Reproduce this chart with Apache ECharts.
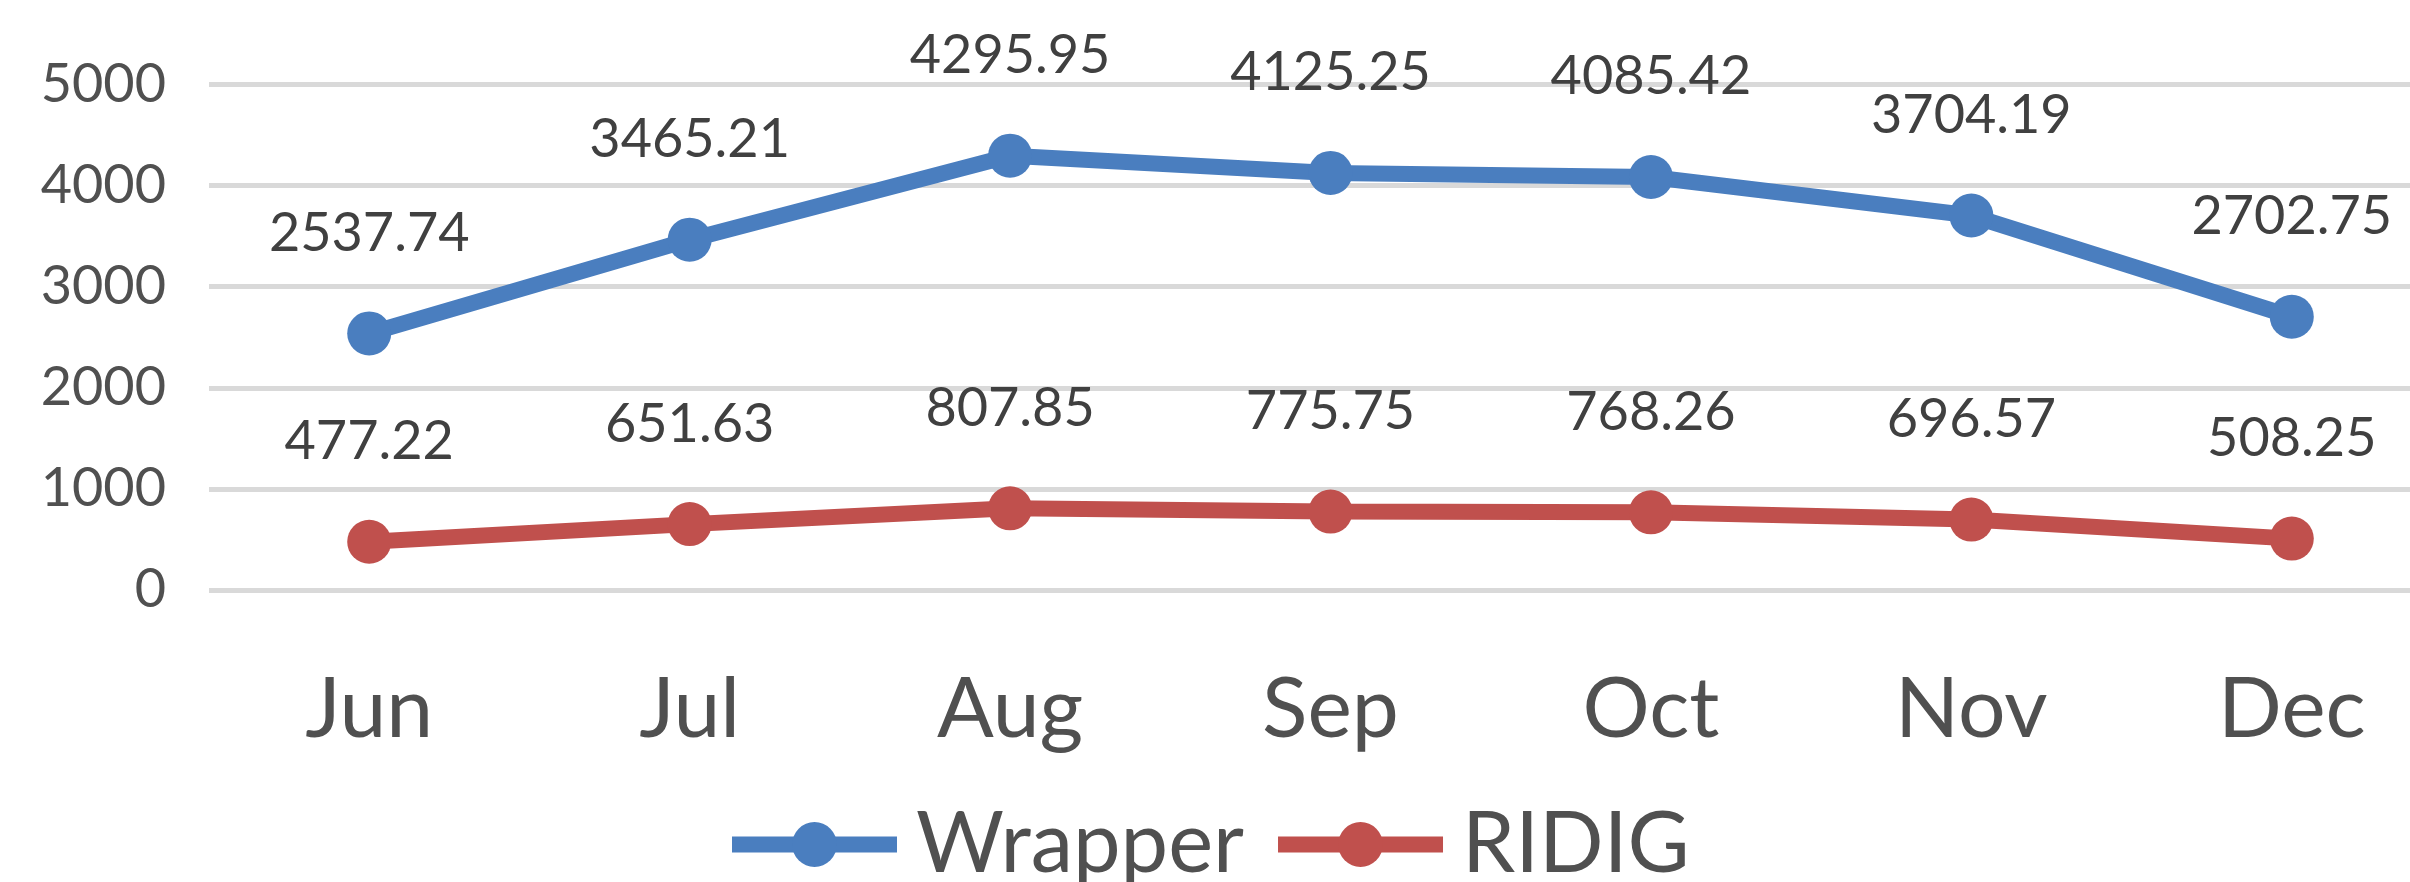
<!DOCTYPE html>
<html>
<head>
<meta charset="utf-8">
<script src="https://cdn.jsdelivr.net/npm/echarts@6/dist/echarts.min.js"></script>
<style>html,body{margin:0;padding:0;background:#fff;}#c{width:2410px;height:882px;}</style>
</head>
<body>
<div id="c"></div>
<script>
const categories = ['Jun', 'Jul', 'Aug', 'Sep', 'Oct', 'Nov', 'Dec'];
const wrapper = [2537.74, 3465.21, 4295.95, 4125.25, 4085.42, 3704.19, 2702.75];
const ridig = [477.22, 651.63, 807.85, 775.75, 768.26, 696.57, 508.25];
const seriesNames = ['Wrapper', 'RIDIG'];
const yTicks = { min: 0, max: 5000, interval: 1000 };

const FONT = 'Lato';
const chart = echarts.init(document.getElementById('c'), null, { renderer: 'canvas' });

function lineSeries(name, data, color) {
  return {
    name: name,
    type: 'line',
    data: data,
    symbol: 'circle',
    symbolSize: 44,
    lineStyle: { color: color, width: 16 },
    itemStyle: { color: color },
    label: {
      show: true,
      position: 'top',
      distance: 51,
      fontFamily: FONT,
      fontSize: 54,
      lineHeight: 54,
      color: '#404040',
      formatter: p => p.value.toFixed(2)
    },
    animation: false
  };
}

chart.setOption({
  backgroundColor: '#ffffff',
  animation: false,
  grid: { left: 209, top: 84.5, width: 2243, height: 505.5, containLabel: false, outerBoundsMode: 'none' },
  xAxis: {
    type: 'category',
    data: categories,
    boundaryGap: true,
    axisLine: { show: false },
    axisTick: { show: false },
    axisLabel: { fontFamily: FONT, fontSize: 84, lineHeight: 84, color: '#505050', margin: 78 },
    splitLine: { show: false }
  },
  yAxis: {
    type: 'value',
    min: yTicks.min,
    max: yTicks.max,
    interval: yTicks.interval,
    axisLine: { show: false },
    axisTick: { show: false },
    axisLabel: { fontFamily: FONT, fontSize: 54, color: '#505050', margin: 43, formatter: v => String(v) },
    splitLine: { lineStyle: { color: '#d9d9d9', width: 5 } }
  },
  legend: {
    left: 719,
    top: 797,
    itemWidth: 165,
    itemHeight: 56,
    itemGap: 26,
    lineStyle: { width: 16 },
    textStyle: { fontFamily: FONT, fontSize: 85, color: '#505050', padding: [0, 0, 0, 14] },
    data: seriesNames
  },
  series: [
    lineSeries(seriesNames[0], wrapper, '#4a7ebf'),
    lineSeries(seriesNames[1], ridig, '#c0504d')
  ]
});
</script>
</body>
</html>
